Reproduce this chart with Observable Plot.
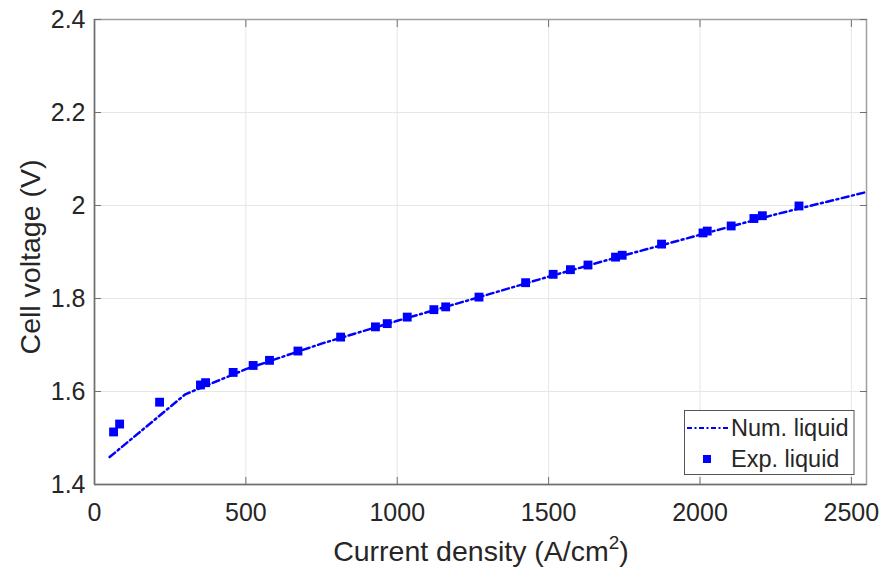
<!DOCTYPE html>
<html><head><meta charset="utf-8">
<script src="https://cdn.jsdelivr.net/npm/d3@7"></script>
<script src="https://cdn.jsdelivr.net/npm/@observablehq/plot@0.6"></script>
<style>
body{margin:0;background:#fff;}
#wrap{position:relative;width:883px;height:571px;font-family:"Liberation Sans",Arial,sans-serif;color:#262626;}
#legend{position:absolute;left:684px;top:410px;}
</style></head><body><div id="wrap"></div>
<script>
// Numerical model (dash-dot line)
const numX = [50, 300, 500, 750, 1000, 1250, 1500, 1750, 2000, 2250, 2550];
const numY = [1.459, 1.594, 1.648, 1.703, 1.752, 1.799, 1.847, 1.893, 1.937, 1.981, 2.029];
// Experimental points (squares)
const expX = [63, 83, 215, 350, 367, 458, 524, 578, 672, 813, 928, 967, 1033, 1121, 1160, 1270, 1424, 1515, 1572, 1630, 1721, 1743, 1873, 2010, 2024, 2103, 2178, 2206, 2327];
const expY = [1.513, 1.530, 1.577, 1.614, 1.619, 1.641, 1.656, 1.667, 1.687, 1.717, 1.739, 1.746, 1.760, 1.776, 1.782, 1.803, 1.834, 1.852, 1.862, 1.872, 1.889, 1.893, 1.917, 1.941, 1.945, 1.956, 1.972, 1.978, 1.999];
const xTicks = [0, 500, 1000, 1500, 2000, 2500];
const xTickLabels = ["0", "500", "1000", "1500", "2000", "2500"];
const yTicks = [1.4, 1.6, 1.8, 2.0, 2.2, 2.4];
const yTickLabels = ["1.4", "1.6", "1.8", "2", "2.2", "2.4"];
const seriesNames = ["Num. liquid", "Exp. liquid"];
const xLabelMain = "Current density (A/cm";
const xLabelSup = "2";
const xLabelEnd = ")";
const yLabel = "Cell voltage (V)";

const num = numX.map((x, i) => ({x, y: numY[i]}));
const exp = expX.map((x, i) => ({x, y: expY[i]}));
const blue = "#0000ff";
const dash = "7,3.5,2,3.5";

const plot = Plot.plot({
  width: 883, height: 571,
  marginLeft: 94, marginRight: 17, marginTop: 19, marginBottom: 87,
  style: {fontFamily: "'Liberation Sans', Arial, sans-serif", fontSize: "25px", color: "#262626", background: "white", overflow: "visible"},
  x: {domain: [0, 2550]},
  y: {domain: [1.4, 2.4]},
  marks: [
    Plot.gridX(xTicks, {stroke: "#e6e6e6", strokeOpacity: 1, strokeWidth: 1}),
    Plot.gridY(yTicks, {stroke: "#e6e6e6", strokeOpacity: 1, strokeWidth: 1}),
    Plot.frame({stroke: "#a0a0a0", strokeWidth: 1.5}),
    Plot.axisX(xTicks, {anchor: "bottom", tickSize: -7, tickPadding: 26, tickFormat: (d, i) => xTickLabels[i], stroke: "#707070", fill: "#262626", label: null}),
    Plot.axisX(xTicks, {anchor: "top", tickSize: -7, tickFormat: () => "", stroke: "#707070", label: null}),
    Plot.axisY(yTicks, {anchor: "left", tickSize: -7, tickPadding: 16, tickFormat: (d, i) => yTickLabels[i], stroke: "#707070", fill: "#262626", label: null}),
    Plot.axisY(yTicks, {anchor: "right", tickSize: -7, tickFormat: () => "", stroke: "#707070", label: null}),
    Plot.ruleX([0], {stroke: "#6e6e6e", strokeWidth: 1.5}),
    Plot.ruleY([1.4], {stroke: "#6e6e6e", strokeWidth: 1.5}),
    Plot.line(num, {x: "x", y: "y", stroke: blue, strokeWidth: 2.5, strokeDasharray: dash}),
    Plot.dot(exp, {x: "x", y: "y", symbol: "square", fill: blue, stroke: "none", r: 5})
  ]
});
document.getElementById("wrap").appendChild(plot);

// axis titles
const svg = d3.select(plot);
const xl = svg.append("text")
  .attr("x", 481).attr("y", 561)
  .attr("text-anchor", "middle")
  .attr("fill", "#262626")
  .style("font-size", "28.5px");
xl.append("tspan").text(xLabelMain);
xl.append("tspan").attr("dy", -12).style("font-size", "19px").text(xLabelSup);
xl.append("tspan").attr("dy", 12).text(xLabelEnd);

svg.append("text")
  .attr("transform", "translate(40,257) rotate(-90)")
  .attr("text-anchor", "middle")
  .attr("fill", "#262626")
  .style("font-size", "28.5px")
  .text(yLabel);

// legend
const lg = d3.select("#wrap").append("svg")
  .attr("id", "legend").attr("width", 172).attr("height", 66);
lg.append("rect").attr("x", 0.5).attr("y", 0.5).attr("width", 169.5).attr("height", 64)
  .attr("fill", "white").attr("stroke", "#555").attr("stroke-width", 1);
lg.append("line").attr("x1", 3).attr("x2", 45).attr("y1", 18).attr("y2", 18)
  .attr("stroke", blue).attr("stroke-width", 2).attr("stroke-dasharray", "5,2.5,2,2.5");
lg.append("rect").attr("x", 19).attr("y", 45).attr("width", 8).attr("height", 8).attr("fill", blue);
lg.append("text").attr("x", 47).attr("y", 26).attr("fill", "#262626")
  .style("font-family", "'Liberation Sans', Arial, sans-serif").style("font-size", "23.5px").text(seriesNames[0]);
lg.append("text").attr("x", 47).attr("y", 57).attr("fill", "#262626")
  .style("font-family", "'Liberation Sans', Arial, sans-serif").style("font-size", "23.5px").text(seriesNames[1]);
</script>
</body></html>
